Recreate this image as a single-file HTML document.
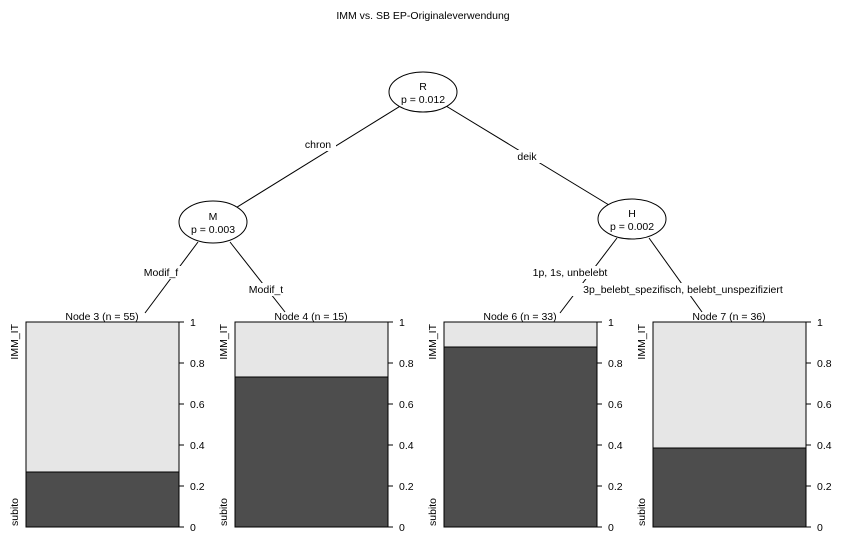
<!DOCTYPE html>
<html><head><style>body{margin:0;background:#fff}svg{display:block}</style></head><body>
<svg width="847" height="541" viewBox="0 0 847 541" xmlns="http://www.w3.org/2000/svg" font-family="Liberation Sans, sans-serif" font-size="10.5" fill="#000">
<rect width="847" height="541" fill="#fff"/>
<text x="423" y="19" text-anchor="middle">IMM vs. SB EP-Originaleverwendung</text>
<g stroke="#000" stroke-width="1" fill="none">
<line x1="423" y1="92" x2="213" y2="222"/>
<line x1="423" y1="92" x2="632" y2="219"/>
<line x1="198" y1="242" x2="145" y2="313"/>
<line x1="230" y1="242" x2="285" y2="312"/>
<line x1="617" y1="238" x2="560" y2="313"/>
<line x1="649" y1="238" x2="702" y2="312"/>
</g>
<g fill="#fff">
<rect x="300" y="138" width="36" height="13"/>
<rect x="512" y="150" width="30" height="13"/>
<rect x="138" y="266" width="46" height="13"/>
<rect x="242" y="283" width="48" height="13"/>
<rect x="534" y="266" width="72" height="13"/>
<rect x="564" y="283" width="240" height="13"/>
</g>
<text x="318" y="148" text-anchor="middle">chron</text>
<text x="527" y="160" text-anchor="middle">deik</text>
<text x="161" y="276" text-anchor="middle">Modif_f</text>
<text x="266" y="293" text-anchor="middle">Modif_t</text>
<text x="570" y="276" text-anchor="middle">1p, 1s, unbelebt</text>
<text x="683" y="293" text-anchor="middle">3p_belebt_spezifisch, belebt_unspezifiziert</text>
<g stroke="#000" fill="#fff">
<ellipse cx="423" cy="92" rx="34" ry="20"/>
<ellipse cx="213" cy="222" rx="34" ry="21"/>
<ellipse cx="632" cy="219" rx="34" ry="20"/>
</g>
<g text-anchor="middle">
<text x="423" y="90">R</text><text x="423" y="103">p = 0.012</text>
<text x="213" y="220">M</text><text x="213" y="233">p = 0.003</text>
<text x="632" y="217">H</text><text x="632" y="230">p = 0.002</text>
</g>
<defs>
<g id="ax" stroke="#000">
<line x1="0" y1="322" x2="0" y2="527"/>
<line x1="0" y1="322" x2="5" y2="322"/>
<line x1="0" y1="363" x2="5" y2="363"/>
<line x1="0" y1="404" x2="5" y2="404"/>
<line x1="0" y1="445" x2="5" y2="445"/>
<line x1="0" y1="486" x2="5" y2="486"/>
<line x1="0" y1="527" x2="5" y2="527"/>
</g>
<g id="lb">
<text x="11" y="326">1</text><text x="11" y="367">0.8</text><text x="11" y="408">0.6</text><text x="11" y="449">0.4</text><text x="11" y="490">0.2</text><text x="11" y="531">0</text>
</g>
</defs>
<g stroke="#000">
<rect x="26" y="322" width="153" height="205" fill="#e6e6e6"/>
<rect x="26" y="472" width="153" height="55" fill="#4d4d4d"/>
<rect x="235" y="322" width="153" height="205" fill="#e6e6e6"/>
<rect x="235" y="377" width="153" height="150" fill="#4d4d4d"/>
<rect x="444" y="322" width="153" height="205" fill="#e6e6e6"/>
<rect x="444" y="347" width="153" height="180" fill="#4d4d4d"/>
<rect x="653" y="322" width="153" height="205" fill="#e6e6e6"/>
<rect x="653" y="448" width="153" height="79" fill="#4d4d4d"/>
</g>
<use href="#ax" x="179"/><use href="#lb" x="179"/>
<use href="#ax" x="388"/><use href="#lb" x="388"/>
<use href="#ax" x="597"/><use href="#lb" x="597"/>
<use href="#ax" x="806"/><use href="#lb" x="806"/>
<g text-anchor="middle">
<text x="102" y="320">Node 3 (n = 55)</text>
<text x="311" y="320">Node 4 (n = 15)</text>
<text x="520" y="320">Node 6 (n = 33)</text>
<text x="729" y="320">Node 7 (n = 36)</text>
</g>
<g>
<text transform="translate(18,324) rotate(-90)" text-anchor="end">IMM_IT</text>
<text transform="translate(18,526) rotate(-90)">subito</text>
<text transform="translate(227,324) rotate(-90)" text-anchor="end">IMM_IT</text>
<text transform="translate(227,526) rotate(-90)">subito</text>
<text transform="translate(436,324) rotate(-90)" text-anchor="end">IMM_IT</text>
<text transform="translate(436,526) rotate(-90)">subito</text>
<text transform="translate(645,324) rotate(-90)" text-anchor="end">IMM_IT</text>
<text transform="translate(645,526) rotate(-90)">subito</text>
</g>
</svg>
</body></html>
